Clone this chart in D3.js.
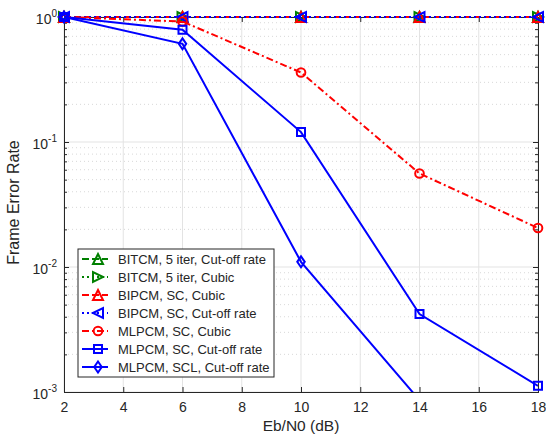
<!DOCTYPE html>
<html>
<head>
<meta charset="utf-8">
<script src="https://cdn.jsdelivr.net/npm/d3@7"></script>
<style>
  body { margin: 0; background: #fff; }
  text { font-family: "Liberation Sans", Arial, sans-serif; fill: #262626; }
</style>
</head>
<body>
<svg id="chart" width="546" height="438"></svg>
<script>
var ebn0 = [2, 6, 10, 14, 18];
var xTicks = [2, 4, 6, 8, 10, 12, 14, 16, 18];
var yTicks = [0, -1, -2, -3];

var bitcmCutoff = [1, 1, 1, 1, 1];
var bitcmCubic = [1, 1, 1, 1, 1];
var bipcmCubic = [1, 1, 1, 1, 1];
var bipcmCutoff = [1, 1, 1, 1, 1];
var mlpcmScCubic = [1, 0.92, 0.36, 0.056, 0.0205];
var mlpcmScCutoff = [1, 0.79, 0.12, 0.0042, 0.00112];
var mlpcmSclCutoff = [1, 0.61, 0.011, 0.00086, null];

var seriesNames = [
  "BITCM, 5 iter, Cut-off rate",
  "BITCM, 5 iter, Cubic",
  "BIPCM, SC, Cubic",
  "BIPCM, SC, Cut-off rate",
  "MLPCM, SC, Cubic",
  "MLPCM, SC, Cut-off rate",
  "MLPCM, SCL, Cut-off rate"
];
var seriesValues = [bitcmCutoff, bitcmCubic, bipcmCubic, bipcmCutoff, mlpcmScCubic, mlpcmScCutoff, mlpcmSclCutoff];
var seriesColors = ["#008000", "#008000", "#ff0000", "#0000ff", "#ff0000", "#0000ff", "#0000ff"];
var seriesDash = ["7,3", "2,3", "7,3", "2,3", "7,3,2,3", null, null];
var seriesMarker = ["triUp", "triRight", "triUp", "triLeft", "circle", "square", "diamond"];

var margin = {left: 64, right: 8, top: 17, bottom: 46};
var width = 546 - margin.left - margin.right;
var height = 438 - margin.top - margin.bottom;

var svg = d3.select("#chart");
var g = svg.append("g").attr("transform", "translate(" + margin.left + "," + margin.top + ")");

var x = d3.scaleLinear().domain([2, 18]).range([0, width]);
var y = d3.scaleLog().domain([1e-3, 1]).range([height, 0]);

// grid
var minor = [];
for (var e = -3; e < 0; e++) {
  for (var k = 2; k <= 9; k++) minor.push(k * Math.pow(10, e));
}
g.selectAll(".minor").data(minor).enter().append("line")
  .attr("x1", 0).attr("x2", width)
  .attr("y1", function(d) { return y(d); }).attr("y2", function(d) { return y(d); })
  .attr("stroke", "#c8c8c8").attr("stroke-width", 0.7).attr("stroke-dasharray", "1,3");
g.selectAll(".vgrid").data(xTicks).enter().append("line")
  .attr("x1", function(d) { return x(d); }).attr("x2", function(d) { return x(d); })
  .attr("y1", 0).attr("y2", height)
  .attr("stroke", "#e3e3e3").attr("stroke-width", 1);
g.selectAll(".hgrid").data(yTicks).enter().append("line")
  .attr("x1", 0).attr("x2", width)
  .attr("y1", function(d) { return y(Math.pow(10, d)); }).attr("y2", function(d) { return y(Math.pow(10, d)); })
  .attr("stroke", "#e3e3e3").attr("stroke-width", 1);

// axes (inward ticks, box)
var axisColor = "#262626";
var xb = g.append("g").attr("transform", "translate(0," + height + ")")
  .call(d3.axisBottom(x).tickValues(xTicks).tickSize(-5).tickPadding(10).tickFormat(d3.format("d")));
var xt = g.append("g")
  .call(d3.axisTop(x).tickValues(xTicks).tickSize(-5).tickFormat(""));
var ylTicks = yTicks.map(function(d) { return Math.pow(10, d); });
var yl = g.append("g")
  .call(d3.axisLeft(y).tickValues(ylTicks).tickSize(-5).tickPadding(8).tickFormat(""));
var yr = g.append("g").attr("transform", "translate(" + width + ",0)")
  .call(d3.axisRight(y).tickValues(ylTicks).tickSize(-5).tickFormat(""));
var ylm = g.append("g").call(d3.axisLeft(y).tickValues(minor).tickSize(-3).tickFormat(""));
var yrm = g.append("g").attr("transform", "translate(" + width + ",0)")
  .call(d3.axisRight(y).tickValues(minor).tickSize(-3).tickFormat(""));
[xb, xt, yl, yr, ylm, yrm].forEach(function(a) {
  a.selectAll("path").attr("stroke", axisColor).attr("stroke-width", 1);
  a.selectAll("line").attr("stroke", axisColor);
});
xb.selectAll("text").attr("font-size", 14).attr("fill", axisColor)
  .style("font-family", "'Liberation Sans', Arial, sans-serif");

yl.selectAll(".tick").each(function(d) {
  var t = d3.select(this).append("text")
    .attr("x", -7).attr("y", 6).attr("text-anchor", "end")
    .attr("font-size", 14).attr("fill", axisColor);
  t.append("tspan").text("10");
  t.append("tspan").attr("dy", -7).attr("font-size", 10).text(Math.round(Math.log10(d)));
});

// labels
g.append("text").attr("x", width / 2).attr("y", height + 39)
  .attr("text-anchor", "middle").attr("font-size", 15.5).text("Eb/N0 (dB)");
g.append("text").attr("transform", "translate(-45," + (height / 2 - 2) + ") rotate(-90)")
  .attr("text-anchor", "middle").attr("font-size", 16).text("Frame Error Rate");

// markers
function markerPath(type, s) {
  var h = s / 2;
  switch (type) {
    case "triUp": return "M0," + (-h) + "L" + h + "," + h + "L" + (-h) + "," + h + "Z";
    case "triRight": return "M" + h + ",0L" + (-h) + "," + (-h) + "L" + (-h) + "," + h + "Z";
    case "triLeft": return "M" + (-h) + ",0L" + h + "," + (-h) + "L" + h + "," + h + "Z";
    case "square": return "M" + (-h * 0.8) + "," + (-h * 0.8) + "h" + (s * 0.8) + "v" + (s * 0.8) + "h" + (-s * 0.8) + "Z";
    case "diamond": return "M0," + (-h * 1.1) + "L" + (h * 0.75) + ",0L0," + (h * 1.1) + "L" + (-h * 0.75) + ",0Z";
    case "circle": return d3.symbol(d3.symbolCircle, Math.PI * h * h * 0.75)();
  }
}

svg.append("defs").append("clipPath").attr("id", "plotclip")
  .append("rect").attr("x", 0).attr("y", -1).attr("width", width).attr("height", height + 1);

var line = d3.line()
  .defined(function(d) { return d[1] != null; })
  .x(function(d) { return x(d[0]); })
  .y(function(d) { return y(d[1]); });

seriesValues.forEach(function(vals, i) {
  var pts = ebn0.map(function(e, j) { return [e, vals[j]]; });
  g.append("path").datum(pts)
    .attr("clip-path", "url(#plotclip)")
    .attr("d", line)
    .attr("fill", "none")
    .attr("stroke", seriesColors[i])
    .attr("stroke-width", 2)
    .attr("stroke-dasharray", seriesDash[i]);
  g.selectAll(".m" + i)
    .data(pts.filter(function(d) { return d[1] != null && d[1] >= 1e-3; }))
    .enter().append("path")
    .attr("transform", function(d) { return "translate(" + x(d[0]) + "," + y(d[1]) + ")"; })
    .attr("d", markerPath(seriesMarker[i], 10))
    .attr("fill", "none")
    .attr("stroke", seriesColors[i])
    .attr("stroke-width", 2);
});

// legend
var lg = g.append("g").attr("transform", "translate(14,232)");
lg.append("rect").attr("x", 0).attr("y", 0).attr("width", 196).attr("height", 128)
  .attr("fill", "#fff").attr("stroke", axisColor).attr("stroke-width", 1);
seriesNames.forEach(function(name, i) {
  var ly = 10 + i * 18;
  lg.append("line").attr("x1", 4).attr("x2", 30).attr("y1", ly).attr("y2", ly)
    .attr("stroke", seriesColors[i]).attr("stroke-width", 2)
    .attr("stroke-dasharray", seriesDash[i]);
  lg.append("path").attr("transform", "translate(20," + ly + ")")
    .attr("d", markerPath(seriesMarker[i], 10))
    .attr("fill", "none").attr("stroke", seriesColors[i]).attr("stroke-width", 2);
  lg.append("text").attr("x", 40).attr("y", ly + 4.5).attr("font-size", 13)
    .attr("fill", "#000").text(name);
});
</script>
</body>
</html>
